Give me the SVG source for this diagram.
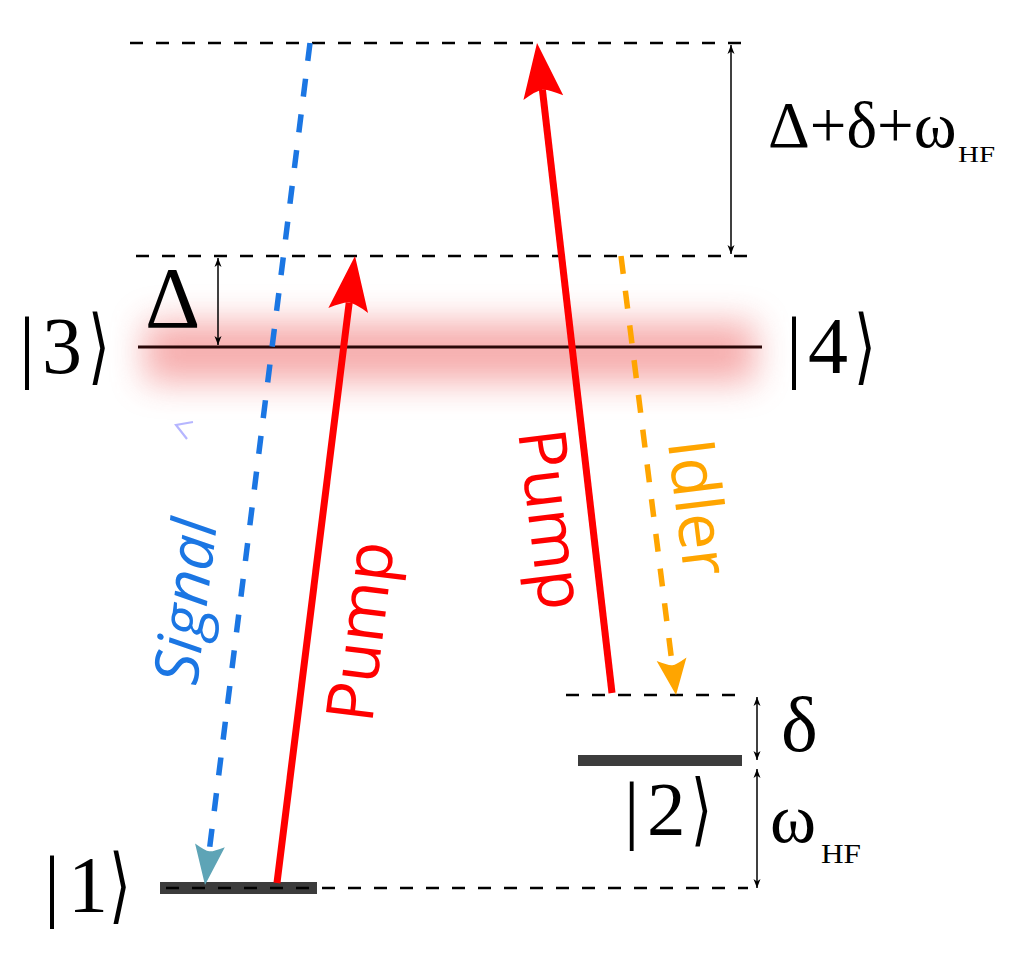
<svg xmlns="http://www.w3.org/2000/svg" width="1024" height="957" viewBox="0 0 1024 957">
<style>
.lvl{stroke:#000;stroke-width:2.5;stroke-dasharray:13 13;fill:none}
.dim{stroke:#000;stroke-width:1.5;fill:none;marker-start:url(#dimHead);marker-end:url(#dimHead)}
.serif{font-family:"Liberation Serif","DejaVu Serif",serif;fill:#000}
.ang{font-family:"DejaVu Sans",sans-serif;fill:#000}
.lab{font-family:"Open Sans","Liberation Sans",sans-serif}
</style>
<defs>
<filter id="blur" x="-20%" y="-100%" width="140%" height="300%"><feGaussianBlur stdDeviation="17"/></filter>
<marker id="redHead" markerUnits="userSpaceOnUse" viewBox="-10 -22 60 44" markerWidth="60" markerHeight="44" refX="0" refY="0" orient="auto" overflow="visible">
<path d="M47,0 L-8,-20 Q0,-6 0,0 Q0,6 -8,20 Z" fill="#ff0000"/>
</marker>
<marker id="tealHead" markerUnits="userSpaceOnUse" viewBox="-8 -17 44 34" markerWidth="44" markerHeight="34" refX="0" refY="0" orient="auto" overflow="visible">
<path d="M34,0 L-6,-15 Q0,-4 0,0 Q0,4 -6,15 Z" fill="#5ea4b6"/>
</marker>
<marker id="orangeHead" markerUnits="userSpaceOnUse" viewBox="-8 -17 40 34" markerWidth="40" markerHeight="34" refX="0" refY="0" orient="auto" overflow="visible">
<path d="M30,0 L-6,-15 Q0,-4 0,0 Q0,4 -6,15 Z" fill="#ffa500"/>
</marker>
<marker id="dimHead" markerUnits="userSpaceOnUse" viewBox="-10 -5 11 10" markerWidth="11" markerHeight="10" refX="0" refY="0" orient="auto-start-reverse" overflow="visible">
<path d="M0,0 L-9,-3.5 L-6.5,0 L-9,3.5 Z" fill="#000"/>
</marker>
</defs>
<rect width="1024" height="957" fill="#fff"/>

<g id="glow">
<rect x="145" y="322" width="610" height="60" fill="#ef6a6a" opacity="0.55" filter="url(#blur)"/>
</g>

<g id="levels">
<line class="lvl" x1="130" y1="43" x2="745" y2="43"/>
<line class="lvl" x1="136" y1="256" x2="750" y2="256"/>
<line x1="138" y1="347" x2="762" y2="347" stroke="#2a0808" stroke-width="3"/>
<line class="lvl" x1="566" y1="695" x2="745" y2="695"/>
<rect x="578" y="755" width="164" height="11" fill="#3c3c3c"/>
<rect x="160" y="882" width="157" height="12" fill="#3c3c3c"/>
<line class="lvl" x1="166" y1="888" x2="748" y2="888"/>
<polyline points="193,422 176,425 187,439" fill="none" stroke="#b6b6ff" stroke-width="2.2"/>
</g>

<g id="connectors">
<line x1="310" y1="43" x2="209.2" y2="851.3" stroke="#1b76e3" stroke-width="5.5" stroke-dasharray="18 18" marker-end="url(#tealHead)"/>
<line x1="277" y1="883" x2="349.2" y2="302.6" stroke="#ff0000" stroke-width="7" marker-end="url(#redHead)"/>
<line x1="612" y1="693" x2="542.4" y2="89.7" stroke="#ff0000" stroke-width="7" marker-end="url(#redHead)"/>
<line x1="621" y1="256" x2="672.3" y2="665.2" stroke="#ffa500" stroke-width="5.5" stroke-dasharray="18 17" marker-end="url(#orangeHead)"/>
<line class="dim" x1="731" y1="45" x2="731" y2="254"/>
<line class="dim" x1="218" y1="258" x2="218" y2="345"/>
<line class="dim" x1="757" y1="697" x2="757" y2="760"/>
<line class="dim" x1="757" y1="769" x2="757" y2="888"/>
</g>

<g id="state3"><text class="serif" font-size="80" y="373"><tspan x="19">|</tspan><tspan x="42">3</tspan></text><text class="ang" font-size="80" transform="translate(88,374) scale(0.7,1.03)">⟩</text></g>
<g id="state4"><text class="serif" font-size="80" y="373"><tspan x="786">|</tspan><tspan x="808">4</tspan></text><text class="ang" font-size="80" transform="translate(854,374) scale(0.7,1.03)">⟩</text></g>
<g id="state1"><text class="serif" font-size="80" y="912"><tspan x="44">|</tspan><tspan x="68">1</tspan></text><text class="ang" font-size="80" transform="translate(109,913) scale(0.7,1.03)">⟩</text></g>
<g id="state2"><text class="serif" font-size="77" y="835"><tspan x="624">|</tspan><tspan x="647">2</tspan></text><text class="ang" font-size="77" transform="translate(691,836) scale(0.7,1.03)">⟩</text></g>

<g id="labels">
<text class="serif" font-size="65" x="768" y="147">Δ+δ+ω</text>
<text class="serif" font-size="24" x="958" y="162" textLength="37" lengthAdjust="spacingAndGlyphs">HF</text>
<text class="serif" font-size="86" x="145" y="327">Δ</text>
<text class="serif" font-size="78" x="781" y="751">δ</text>
<text class="serif" font-size="70" x="770" y="842">ω</text>
<text class="serif" font-size="28" x="821" y="863" textLength="40" lengthAdjust="spacingAndGlyphs">HF</text>
<text class="lab" font-size="62" font-style="italic" fill="#1b76e3" text-anchor="middle" transform="translate(207,604) rotate(-83)">Signal</text>
<text class="lab" font-size="66" fill="#ff0000" text-anchor="middle" transform="translate(383,634) rotate(-83)">Pump</text>
<text class="lab" font-size="66" fill="#ff0000" text-anchor="middle" transform="translate(529,522) rotate(83)">Pump</text>
<text class="lab" font-size="65" fill="#ffa500" text-anchor="middle" transform="translate(676,510) rotate(83)">Idler</text>
</g>
</svg>
